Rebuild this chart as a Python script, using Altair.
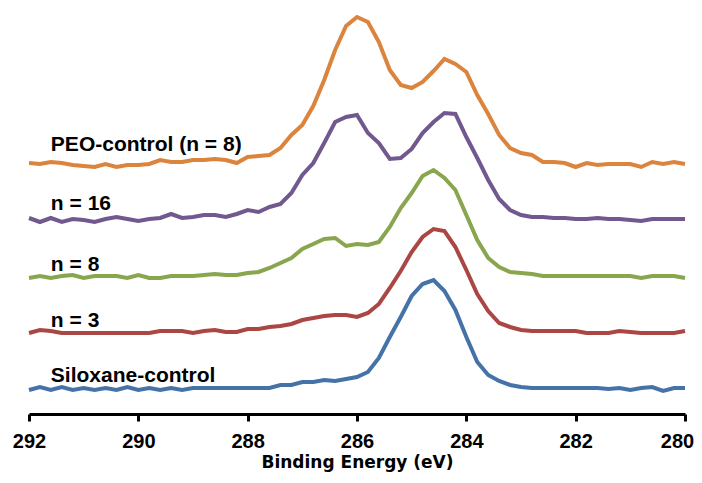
import altair as alt
import pandas as pd

energy = [292.0, 291.8, 291.6, 291.4, 291.2, 291.0, 290.8, 290.6, 290.4, 290.2,
          290.0, 289.8, 289.6, 289.4, 289.2, 289.0, 288.8, 288.6, 288.4, 288.2,
          288.0, 287.8, 287.6, 287.4, 287.2, 287.0, 286.8, 286.6, 286.4, 286.2,
          286.0, 285.8, 285.6, 285.4, 285.2, 285.0, 284.8, 284.6, 284.4, 284.2,
          284.0, 283.8, 283.6, 283.4, 283.2, 283.0, 282.8, 282.6, 282.4, 282.2,
          282.0, 281.8, 281.6, 281.4, 281.2, 281.0, 280.8, 280.6, 280.4, 280.2,
          280.0]

siloxane = [24, 27, 24, 27, 24, 26, 24, 26, 24, 27, 24, 26, 24, 26, 24, 26, 26, 26, 26, 26,
            26, 26, 26, 29, 29, 32, 32, 34, 33, 35, 37, 42, 56, 77, 97, 118, 130, 134, 123, 104,
            77, 52, 39, 33, 29, 27, 26, 26, 26, 26, 26, 26, 26, 25, 26, 24, 26, 27, 23, 26, 26]
n3 = [81, 84, 83, 81, 81, 81, 81, 81, 81, 81, 81, 81, 83, 83, 83, 81, 83, 84, 82, 82,
      85, 85, 87, 88, 90, 94, 96, 98, 99, 99, 97, 101, 110, 126, 143, 162, 177, 185, 183, 167,
      144, 120, 103, 91, 87, 84, 83, 83, 83, 83, 83, 81, 81, 81, 83, 82, 81, 81, 81, 81, 83]
n8 = [136, 138, 136, 138, 139, 136, 138, 138, 138, 136, 139, 136, 136, 138, 138, 138, 139, 140, 139, 139,
      141, 142, 146, 151, 156, 165, 170, 175, 176, 168, 170, 169, 172, 187, 206, 221, 238, 244, 236, 224,
      199, 174, 156, 147, 142, 141, 140, 138, 138, 138, 138, 138, 138, 138, 138, 138, 136, 138, 138, 138, 136]
n16 = [196, 192, 196, 192, 195, 194, 192, 195, 197, 195, 193, 195, 196, 200, 196, 197, 199, 199, 197, 200,
       204, 202, 207, 210, 221, 239, 251, 271, 292, 297, 299, 281, 271, 255, 256, 265, 281, 292, 301, 300,
       277, 256, 234, 215, 204, 199, 197, 197, 196, 196, 195, 195, 196, 195, 195, 194, 193, 195, 195, 195, 195]
peo = [251, 250, 252, 251, 249, 248, 247, 250, 247, 249, 249, 250, 254, 252, 252, 254, 254, 255, 254, 251,
       257, 258, 259, 266, 279, 289, 308, 334, 364, 388, 397, 392, 372, 344, 329, 326, 332, 343, 355, 350,
       342, 319, 300, 279, 266, 261, 259, 252, 252, 251, 247, 251, 249, 250, 250, 250, 247, 252, 250, 252, 250]

series_names = ["Siloxane-control", "n = 3", "n = 8", "n = 16", "PEO-control (n = 8)"]
series_values = [siloxane, n3, n8, n16, peo]
series_colors = ["#4572A7", "#AA4643", "#89A54E", "#71588F", "#DB843D"]

label_x = [291.6, 291.6, 291.6, 291.6, 291.6]
label_y = [32, 87, 143, 204, 263]

tick_values = [292, 290, 288, 286, 284, 282, 280]

rows = []
for name, vals in zip(series_names, series_values):
    for e, v in zip(energy, vals):
        rows.append({"energy": e, "intensity": v, "series": name})
df = pd.DataFrame(rows)
labels = pd.DataFrame({"energy": label_x, "intensity": label_y, "text": series_names})

x_scale = alt.Scale(domain=[280, 292], reverse=True, nice=False, zero=False)
y_scale = alt.Scale(domain=[0, 406], nice=False, zero=False)

lines = alt.Chart(df).mark_line(strokeWidth=4).encode(
    x=alt.X("energy:Q", scale=x_scale,
            axis=alt.Axis(values=tick_values, format="d", title="Binding Energy (eV)",
                          domainColor="black", domainWidth=3, tickColor="black",
                          tickWidth=3, tickSize=7, labelFont="Liberation Sans",
                          labelFontSize=20, labelFontWeight="bold", labelColor="black",
                          labelPadding=10, labelFlush=False, grid=False,
                          labelOffset={"condition": {"test": "datum.value === 280", "value": -8},
                                       "value": 0},
                          titleFont="DejaVu Sans", titleFontSize=17, titleFontWeight="bold",
                          titleColor="black", titlePadding=3)),
    y=alt.Y("intensity:Q", scale=y_scale, axis=None),
    color=alt.Color("series:N", scale=alt.Scale(domain=series_names, range=series_colors), legend=None),
    detail="series:N",
)

text = alt.Chart(labels).mark_text(align="left", baseline="alphabetic", font="Liberation Sans",
                                   fontSize=21, fontWeight="bold", color="black").encode(
    x=alt.X("energy:Q", scale=x_scale),
    y=alt.Y("intensity:Q", scale=y_scale),
    text="text:N",
)

chart = alt.layer(lines, text).properties(
    width=656, height=406,
    autosize=alt.AutoSizeParams(type="none"),
    padding={"left": 21, "top": 0, "right": 9, "bottom": 61},
).configure_view(stroke=None)

chart.save("out.html", embed_options={"renderer": "svg", "actions": False})
